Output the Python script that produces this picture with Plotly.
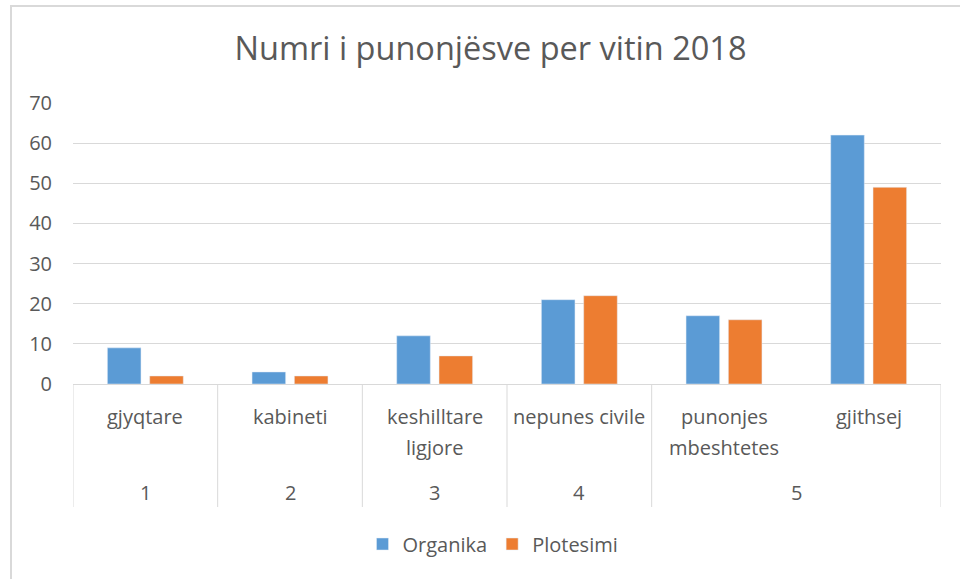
import plotly.graph_objects as go

# ---- data ----
categories = ["gjyqtare", "kabineti", "keshilltare ligjore", "nepunes civile",
              "punonjes mbeshtetes", "gjithsej"]
category_labels = ["gjyqtare", "kabineti", "keshilltare<br>ligjore", "nepunes civile",
                   "punonjes<br>mbeshtetes", "gjithsej"]
groups = ["1", "2", "3", "4", "5", "5"]
organika = [9, 3, 12, 21, 17, 62]
plotesimi = [2, 2, 7, 22, 16, 49]
y_ticks = [0, 10, 20, 30, 40, 50, 60, 70]
title_text = "Numri i punonjësve per vitin 2018"

FONT = "Open Sans"
GRAY = "#595959"
LINE = "#d9d9d9"

fig = go.Figure()
fig.add_trace(go.Bar(name="Organika", x=categories, y=organika, marker_color="#5b9bd5"))
fig.add_trace(go.Bar(name="Plotesimi", x=categories, y=plotesimi, marker_color="#ed7d31"))

# geometry helpers (pixels -> paper)
W, H = 960, 579
ml, mr, mt, mb = 73, 19, 103, 195
pw, ph = W - ml - mr, H - mt - mb
def py(p):
    return (H - mb - p) / ph
def px(p):
    return (p - ml) / pw

annotations = []
# inner category labels (one annotation per line for Excel-like line spacing)
for i, lab in enumerate(category_labels):
    for k, line in enumerate(lab.split("<br>")):
        annotations.append(dict(x=i, xref="x", y=py(416 + 31 * k), yref="paper", text=line,
                                showarrow=False, yanchor="middle", xanchor="center",
                                font=dict(family=FONT, size=20, color=GRAY)))
# outer group labels + dividers
shapes = []
uniq = []
for g in groups:
    if g not in uniq:
        uniq.append(g)
for g in uniq:
    idx = [i for i, gg in enumerate(groups) if gg == g]
    annotations.append(dict(x=sum(idx) / len(idx), xref="x", y=py(492), yref="paper",
                            text=g, showarrow=False, yanchor="middle", xanchor="center",
                            font=dict(family=FONT, size=20, color=GRAY)))
bounds = [-0.5]
for i in range(1, len(groups)):
    if groups[i] != groups[i - 1]:
        bounds.append(i - 0.5)
bounds.append(len(groups) - 0.5)
for b in bounds:
    shapes.append(dict(type="line", xref="x", yref="paper", x0=b, x1=b, y0=0, y1=py(507),
                       line=dict(color=LINE, width=1)))
# outer chart frame
shapes.append(dict(type="rect", xref="paper", yref="paper", x0=px(11), x1=px(990),
                   y0=py(600), y1=py(6), line=dict(color=LINE, width=2), layer="below"))

fig.update_layout(
    width=W, height=H,
    margin=dict(l=ml, r=mr, t=mt, b=mb),
    paper_bgcolor="white", plot_bgcolor="white",
    title=dict(text=title_text, x=490.5 / W, xref="container", xanchor="center",
               y=1 - 49 / H, yanchor="middle", yref="container",
               font=dict(family=FONT, size=32.5, color=GRAY)),
    barmode="group", bargap=0.415, bargroupgap=0.206,
    font=dict(family=FONT, color=GRAY),
    legend=dict(orientation="h", x=px(493), xanchor="center", y=py(544), yanchor="middle",
                font=dict(family=FONT, size=20, color=GRAY), itemwidth=30,
                traceorder="normal"),
    annotations=annotations, shapes=shapes,
    xaxis=dict(type="category", showticklabels=False, showgrid=False, ticks="",
               showline=True, linecolor=LINE, linewidth=1, zeroline=False,
               range=[-0.5, len(categories) - 0.5]),
    yaxis=dict(range=[0, 70], tickvals=y_ticks, showgrid=True, gridcolor=LINE,
               gridwidth=1, zeroline=False, showline=False, ticks="",
               ticklabelstandoff=20,
               tickfont=dict(family=FONT, size=20, color=GRAY)),
)

fig.write_html("out.html", config={"displayModeBar": False},
               post_script="document.body.style.margin='0px';document.body.style.overflow='hidden';")
